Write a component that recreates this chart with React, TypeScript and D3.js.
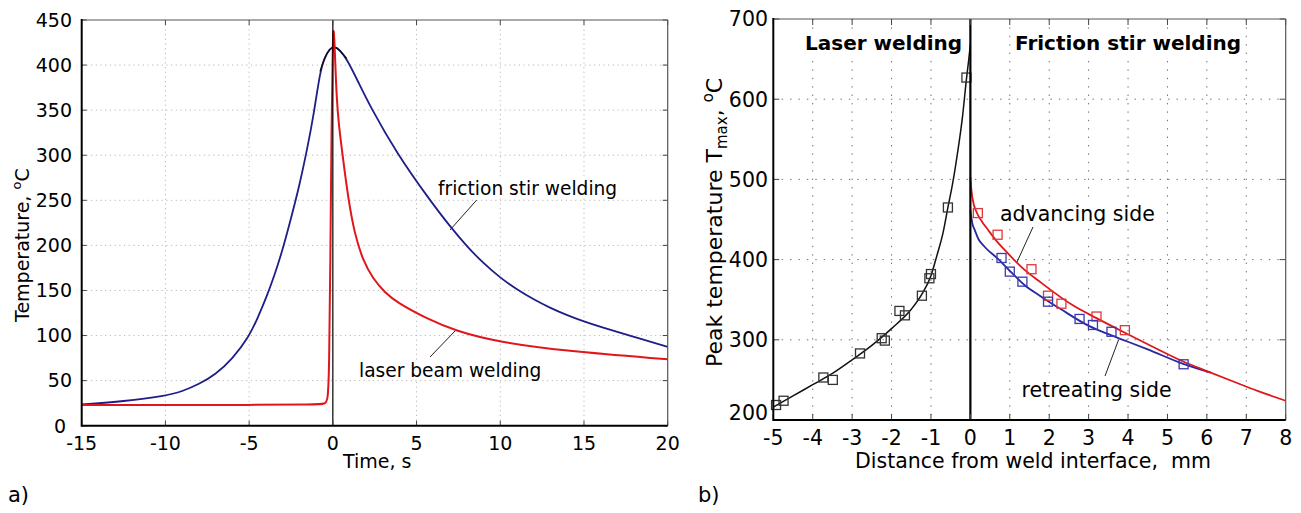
import React, { useEffect, useRef } from "react";
import * as d3 from "d3";

// ---- panel a) : thermal cycles
const timeTicks = [-15, -10, -5, 0, 5, 10, 15, 20];
const tempTicks = [0, 50, 100, 150, 200, 250, 300, 350, 400, 450];

const fswTime = [-15, -12.5, -10, -9, -8, -7, -6, -5, -4.5, -4, -3.5, -3, -2.5, -2, -1.5, -1.16, -0.76, -0.5, -0.2, 0.1, 0.4, 0.83, 1.5, 2.23, 3.82, 5.8, 7, 8, 9, 10, 11, 12, 13, 14, 15, 16, 17.6, 20];
const fswTemp = [23.5, 27, 33, 38, 46, 57, 74, 99, 119, 141, 166, 195, 230, 266, 310, 343, 393, 408, 418, 421, 417, 407, 382, 354, 302, 250, 221, 199, 180, 164, 151, 140, 130.5, 122.5, 115.5, 109.5, 100.6, 87.5];

const lbwTime = [-15, -10, -5, -1, -0.45, -0.3, -0.22, -0.15, -0.08, 0, 0.05, 0.1, 0.17, 0.24, 0.35, 0.54, 0.93, 1.3, 1.8, 2.4, 3.1, 3.8, 5.8, 7.3, 9.8, 13.8, 20];
const lbwTemp = [23, 23, 23, 23.5, 24, 28, 60, 180, 330, 432, 442, 425, 390, 361, 335, 306, 250, 213, 183, 163, 148, 137, 117, 105.5, 93, 83, 73.6];

// ---- panel b) : peak temperature vs distance
const distTicks = [-5, -4, -3, -2, -1, 0, 1, 2, 3, 4, 5, 6, 7, 8];
const peakTicks = [200, 300, 400, 500, 600, 700];

const laserFitX = [-5, -4.5, -4, -3.5, -3, -2.5, -2, -1.5, -1.23, -1, -0.85, -0.7, -0.57, -0.45, -0.32, -0.2, -0.1, -0.04, 0];
const laserFitY = [216, 230, 244, 258, 275, 293, 314, 338, 357, 380, 405, 432, 465, 495, 535, 578, 625, 650, 668];
const laserMarkX = [-4.93, -4.74, -3.73, -3.49, -2.8, -2.25, -2.17, -1.8, -1.66, -1.23, -1.04, -1.0, -0.57, -0.1];
const laserMarkY = [218.7, 224, 253, 250, 283, 302, 299, 336, 330.5, 355, 376.7, 382, 465, 627];

const advFitX = [0, 0.03, 0.08, 0.15, 0.3, 0.45, 0.65, 0.87, 1.29, 1.8, 2.6, 3.2, 3.87, 4.6, 5.4, 6, 6.67, 7.3, 8];
const advFitY = [503, 485, 470, 460, 447, 437, 424, 412, 391, 371, 343, 327, 310, 292, 273, 261, 248, 236, 224];
const advMarkX = [0.19, 0.69, 1.55, 1.97, 2.31, 3.2, 3.92];
const advMarkY = [458, 431, 388, 355, 345, 329, 312];

const retFitX = [0, 0.05, 0.11, 0.2, 0.36, 0.7, 1.04, 1.38, 1.76, 2.3, 3.02, 3.5, 3.87, 4.5, 5.4, 6.1];
const retFitY = [462, 445, 437, 426, 416, 401, 384, 368, 355, 338, 317, 307, 300, 288, 270, 259];
const retMarkX = [0.79, 1.0, 1.32, 1.97, 2.77, 3.11, 3.58, 5.41];
const retMarkY = [402, 385, 372.5, 347.5, 326, 318.5, 310, 269.5];

const FONT = "DejaVu Sans";
const BLUE = "#1e1e88";
const RED = "#e0161b";

function grid(g, x, y, gx, gy, color, dash) {
  const [L, R] = x.range();
  const [B, T] = y.range();
  g.append("g").selectAll("line").data(gy).join("line")
    .attr("x1", L).attr("x2", R)
    .attr("y1", d => y(d)).attr("y2", d => y(d))
    .attr("stroke", color).attr("stroke-dasharray", dash);
  g.append("g").selectAll("line").data(gx).join("line")
    .attr("y1", T).attr("y2", B)
    .attr("x1", d => x(d)).attr("x2", d => x(d))
    .attr("stroke", color).attr("stroke-dasharray", dash);
}

// yLabelX / yLabelDy are functions so the lowest label can be nudged off the x labels
function frame(g, x, y, xt, yt, tl, fs, xLabelY, yLabelX, yLabelDy) {
  const [L, R] = x.range();
  const [B, T] = y.range();
  const tk = g.append("g").attr("stroke", "#444").attr("stroke-width", 1);
  xt.forEach(d => {
    tk.append("line").attr("x1", x(d)).attr("x2", x(d)).attr("y1", T).attr("y2", T + tl);
    tk.append("line").attr("x1", x(d)).attr("x2", x(d)).attr("y1", B).attr("y2", B - tl);
  });
  yt.forEach(d => {
    tk.append("line").attr("y1", y(d)).attr("y2", y(d)).attr("x1", R).attr("x2", R - tl);
    tk.append("line").attr("y1", y(d)).attr("y2", y(d)).attr("x1", L).attr("x2", L + tl);
  });
  g.append("line").attr("x1", L).attr("x2", R).attr("y1", T).attr("y2", T).attr("stroke", "#555").attr("stroke-width", 1.2);
  g.append("line").attr("x1", R).attr("x2", R).attr("y1", T).attr("y2", B).attr("stroke", "#555").attr("stroke-width", 1.2);
  g.append("line").attr("x1", L).attr("x2", L).attr("y1", T - 1).attr("y2", B + 1).attr("stroke", "#000").attr("stroke-width", 2);
  g.append("line").attr("x1", L).attr("x2", R).attr("y1", B).attr("y2", B).attr("stroke", "#000").attr("stroke-width", 2);
  g.append("g").selectAll("text").data(xt).join("text")
    .attr("x", d => x(d)).attr("y", xLabelY)
    .attr("text-anchor", "middle").attr("font-size", fs)
    .text(d => d);
  g.append("g").selectAll("text").data(yt).join("text")
    .attr("x", yLabelX).attr("y", d => y(d) + yLabelDy(d)).attr("dy", "0.36em")
    .attr("text-anchor", "end").attr("font-size", fs)
    .text(d => d);
}

function label(g, txt, x, y, fs, bold) {
  const t = g.append("text").attr("x", x).attr("y", y)
    .attr("font-size", fs).attr("font-weight", bold ? "bold" : "normal")
    .text(txt);
  const bb = t.node().getBBox();
  g.insert("rect", () => t.node())
    .attr("x", bb.x - 2).attr("y", bb.y + 1)
    .attr("width", bb.width + 4).attr("height", bb.height - 2)
    .attr("fill", "#fff");
}

function squares(g, xs, ys, x, y, color) {
  g.append("g").selectAll("rect").data(xs).join("rect")
    .attr("x", (d) => x(d) - 4.5)
    .attr("y", (d, i) => y(ys[i]) - 4.5)
    .attr("width", 9).attr("height", 9)
    .attr("fill", "none").attr("stroke", color).attr("stroke-width", 1.3);
}

function drawHistory(svg) {
  const x = d3.scaleLinear().domain([-15, 20]).range([81.7, 667.7]);
  const y = d3.scaleLinear().domain([0, 450]).range([425.7, 20]);
  const g = svg.append("g");

  grid(g, x, y, [-10, -5, 5, 10, 15], [50, 100, 150, 200, 250, 300, 350, 400], "#b8b8b8", "1.2 3.5");

  label(g, "friction stir welding", 438, 195, 18.6, false);
  label(g, "laser beam welding", 359, 376.5, 18.6, false);
  g.append("line").attr("x1", 476.7).attr("y1", 200).attr("x2", 450).attr("y2", 230).attr("stroke", "#222");
  g.append("line").attr("x1", 430).attr("y1", 357).attr("x2", 456).attr("y2", 330).attr("stroke", "#222");

  // B-spline smoothing, the measured curves are smooth
  const line = d3.line().curve(d3.curveBasis).x(d => x(d[0])).y(d => y(d[1]));
  const fsw = fswTime.map((t, i) => [t, fswTemp[i]]);
  const lbw = lbwTime.map((t, i) => [t, lbwTemp[i]]);

  g.append("path").attr("d", line(fsw)).attr("fill", "none").attr("stroke", BLUE).attr("stroke-width", 1.8);
  g.append("path").attr("d", line(fsw.filter(d => Math.abs(d[0]) <= 0.85)))
    .attr("fill", "none").attr("stroke", "#111").attr("stroke-width", 1.4);
  g.append("path").attr("d", line(lbw)).attr("fill", "none").attr("stroke", RED).attr("stroke-width", 2);

  g.append("line").attr("x1", x(0)).attr("x2", x(0)).attr("y1", y(450)).attr("y2", y(0))
    .attr("stroke", "#000").attr("stroke-width", 1.2);

  frame(g, x, y, timeTicks, tempTicks, 5, 19, 450,
    d => (d === 0 ? 66 : 72), () => 0);

  g.append("text").attr("x", 343).attr("y", 468).attr("font-size", 19).text("Time, s");
  const yl = g.append("text").attr("transform", "translate(29,322) rotate(-90)").attr("font-size", 19);
  yl.append("tspan").text("Temperature, ");
  yl.append("tspan").attr("font-size", 13).attr("dy", -8).text("o");
  yl.append("tspan").attr("dy", 8).text("C");

  g.append("text").attr("x", 8).attr("y", 502).attr("font-size", 21).text("a)");
}

function drawPeak(svg) {
  const x = d3.scaleLinear().domain([-5, 8]).range([773.3, 1285.7]);
  const y = d3.scaleLinear().domain([200, 700]).range([420, 19]);
  const g = svg.append("g");

  grid(g, x, y, [-4, -3, -2, -1, 1, 2, 3, 4, 5, 6, 7], [300, 400, 500, 600], "#6e6e6e", "1.4 7");

  label(g, "Laser welding", 805, 50, 20, true);
  label(g, "Friction stir welding", 1015, 50, 20, true);
  label(g, "advancing side", 1000, 221, 20.5, false);
  label(g, "retreating side", 1021.5, 396.5, 20.5, false);
  g.append("line").attr("x1", 1033).attr("y1", 227).attr("x2", 1017).attr("y2", 262).attr("stroke", "#222");
  g.append("line").attr("x1", 1105).attr("y1", 376).attr("x2", 1118.5).attr("y2", 340).attr("stroke", "#222");

  const line = d3.line().curve(d3.curveMonotoneX).x(d => x(d[0])).y(d => y(d[1]));
  const pts = (xs, ys) => xs.map((v, i) => [v, ys[i]]);

  g.append("path").attr("d", line(pts(laserFitX, laserFitY))).attr("fill", "none").attr("stroke", "#111").attr("stroke-width", 1.5);
  g.append("path").attr("d", line(pts(retFitX, retFitY))).attr("fill", "none").attr("stroke", "#2828a0").attr("stroke-width", 1.8);
  g.append("path").attr("d", line(pts(advFitX, advFitY))).attr("fill", "none").attr("stroke", RED).attr("stroke-width", 1.8);

  squares(g, laserMarkX, laserMarkY, x, y, "#333");
  squares(g, advMarkX, advMarkY, x, y, "#e0393c");
  squares(g, retMarkX, retMarkY, x, y, "#3a3ab0");

  g.append("line").attr("x1", x(0)).attr("x2", x(0)).attr("y1", y(700)).attr("y2", y(200))
    .attr("stroke", "#000").attr("stroke-width", 2.2);

  frame(g, x, y, distTicks, peakTicks, 6, 20.5, 445,
    () => 768, d => (d === 200 ? -7 : 0));

  g.append("text").attr("x", 855).attr("y", 468).attr("font-size", 20.5)
    .style("white-space", "pre").text("Distance from weld interface,  mm");
  const yl = g.append("text").attr("transform", "translate(722,367) rotate(-90)").attr("font-size", 22);
  yl.append("tspan").text("Peak temperature T");
  yl.append("tspan").attr("font-size", 15).attr("dy", 5).text("max");
  yl.append("tspan").attr("dy", -5).text(", ");
  yl.append("tspan").attr("font-size", 15).attr("dy", -9).text("o");
  yl.append("tspan").attr("dy", 9).text("C");

  g.append("text").attr("x", 698).attr("y", 502).attr("font-size", 21).text("b)");
}

export default function App() {
  const ref = useRef(null);
  useEffect(() => {
    const svg = d3.select(ref.current);
    svg.selectAll("*").remove();
    drawHistory(svg);
    drawPeak(svg);
  }, []);
  return (
    <svg
      ref={ref}
      width={1301}
      height={513}
      style={{ position: "absolute", left: 0, top: 0, background: "#fff", fontFamily: FONT }}
    />
  );
}
